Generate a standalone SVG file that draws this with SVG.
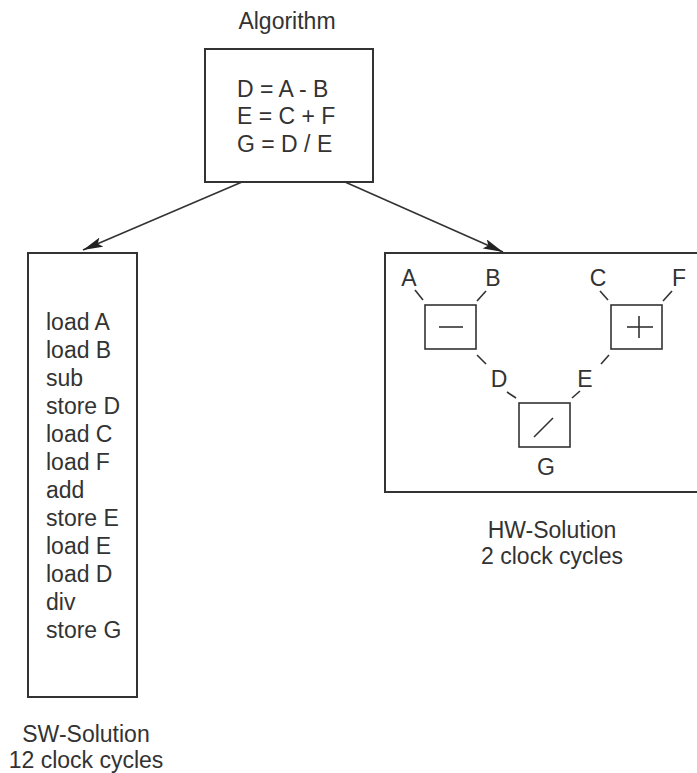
<svg xmlns="http://www.w3.org/2000/svg" width="697" height="773" viewBox="0 0 697 773">
  <style>
    .box { fill: none; stroke: #333; stroke-width: 2; }
    .op { fill: #fff; stroke: #333; stroke-width: 1.6; }
    .sym { stroke: #333; stroke-width: 1.6; fill: none; }
    .stub { stroke: #333; stroke-width: 1.6; }
    .edge { stroke: #333; stroke-width: 1.6; fill: none; }
    text { font-family: "Liberation Sans", Arial, sans-serif; font-size: 23px; fill: #333; }
    .mid { text-anchor: middle; }
  </style>
  <defs>
    <marker id="head" viewBox="0 0 20 10" refX="20" refY="5" markerWidth="20" markerHeight="10" markerUnits="userSpaceOnUse" orient="auto">
      <path d="M0,0 L20,5 L0,10 L4,5 Z" fill="#222"/>
    </marker>
  </defs>
  <rect width="697" height="773" fill="#fff"/>

  <g id="algorithm">
    <text class="mid" x="287" y="29">Algorithm</text>
    <rect class="box" x="205" y="49" width="168" height="133"/>
    <text x="237" y="97">D = A - B</text>
    <text x="237" y="124">E = C + F</text>
    <text x="237" y="152">G = D / E</text>
  </g>

  <g id="connectors">
    <line class="edge" x1="242" y1="182" x2="83" y2="250" marker-end="url(#head)"/>
    <line class="edge" x1="345" y1="182" x2="503" y2="252" marker-end="url(#head)"/>
  </g>

  <g id="sw-solution">
    <rect class="box" x="28" y="253" width="109" height="444"/>
    <text x="46" y="330">load A</text>
    <text x="46" y="358">load B</text>
    <text x="46" y="386">sub</text>
    <text x="46" y="414">store D</text>
    <text x="46" y="442">load C</text>
    <text x="46" y="470">load F</text>
    <text x="46" y="498">add</text>
    <text x="46" y="526">store E</text>
    <text x="46" y="554">load E</text>
    <text x="46" y="582">load D</text>
    <text x="46" y="610">div</text>
    <text x="46" y="638">store G</text>
    <text class="mid" x="86" y="742">SW-Solution</text>
    <text class="mid" x="86" y="768">12 clock cycles</text>
  </g>

  <g id="hw-solution">
    <rect class="box" x="385" y="253" width="330" height="239"/>
    <text class="mid" x="552" y="538">HW-Solution</text>
    <text class="mid" x="552" y="564">2 clock cycles</text>
  </g>

  <g id="sub-unit">
    <text class="mid" x="409" y="286">A</text>
    <text class="mid" x="493" y="286">B</text>
    <line class="stub" x1="415" y1="290" x2="423" y2="300"/>
    <line class="stub" x1="486" y1="291" x2="477" y2="301"/>
    <rect class="op" x="425" y="305" width="51" height="44"/>
    <line class="sym" x1="439" y1="327" x2="463" y2="327"/>
  </g>

  <g id="add-unit">
    <text class="mid" x="598" y="286">C</text>
    <text class="mid" x="679" y="286">F</text>
    <line class="stub" x1="600" y1="291" x2="608" y2="300"/>
    <line class="stub" x1="672" y1="291" x2="663" y2="301"/>
    <rect class="op" x="611" y="305" width="51" height="44"/>
    <line class="sym" x1="627" y1="327" x2="653" y2="327"/>
    <line class="sym" x1="639" y1="316" x2="639" y2="338"/>
  </g>

  <g id="div-unit">
    <line class="stub" x1="477" y1="355" x2="486" y2="364"/>
    <text class="mid" x="499" y="387">D</text>
    <line class="stub" x1="507" y1="392" x2="516" y2="398"/>
    <line class="stub" x1="609" y1="355" x2="601" y2="364"/>
    <text class="mid" x="585" y="387">E</text>
    <line class="stub" x1="580" y1="391" x2="572" y2="398"/>
    <rect class="op" x="519" y="403" width="51" height="44"/>
    <line class="sym" x1="534" y1="437" x2="553" y2="418"/>
    <text class="mid" x="546" y="475">G</text>
  </g>
</svg>
